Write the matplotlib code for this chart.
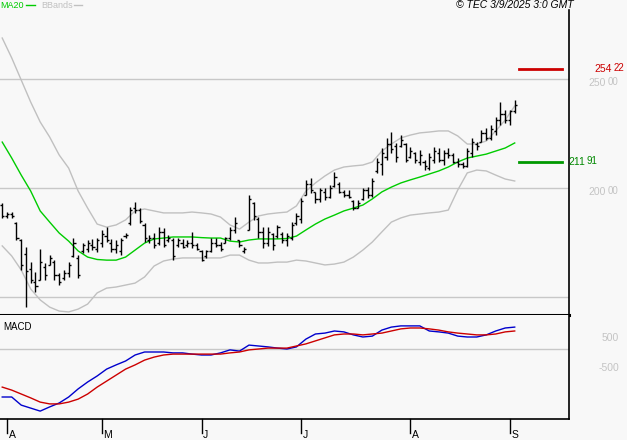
import matplotlib
matplotlib.use("Agg")
import matplotlib.pyplot as plt
from matplotlib.lines import Line2D
import numpy as np

plt.rcParams['font.family'] = ['Liberation Sans', 'DejaVu Sans']

# daily bars, 31 Mar -> 2 Sep 2025 (trading day index 0..108)
highs = [193.1, 189.0, 189.0, 184.4, 176.7, 173.0, 166.1, 161.6, 172.1, 165.7,
         169.3, 167.0, 161.1, 162.5, 166.1, 177.1, 169.3, 174.8, 176.2, 176.7,
         177.1, 180.8, 182.1, 176.7, 176.2, 177.1, 179.4, 191.3, 193.6, 190.8,
         184.0, 178.5, 179.4, 182.1, 181.7, 178.5, 177.1, 177.1, 176.7, 176.2,
         179.9, 174.8, 171.6, 171.6, 177.1, 177.1, 175.3, 177.6, 182.1, 186.7,
         176.2, 173.0, 196.8, 193.6, 186.7, 182.1, 182.1, 179.4, 183.1, 179.9,
         179.4, 184.4, 188.6, 195.4, 203.7, 204.6, 198.2, 200.0, 200.0, 201.4,
         207.3, 202.7, 199.1, 199.1, 194.5, 194.5, 200.0, 200.4, 204.6, 213.7,
         218.3, 222.9, 225.6, 220.6, 224.2, 220.6, 218.8, 216.5, 217.4, 212.8,
         216.0, 218.8, 218.3, 217.4, 218.3, 216.0, 213.7, 211.9, 218.3, 222.9,
         221.0, 226.5, 227.4, 228.8, 232.5, 239.3, 235.7, 235.7, 240.3]
lows = [186.3, 186.3, 186.3, 176.2, 162.5, 145.5, 156.5, 152.4, 157.9, 157.9,
        164.8, 157.9, 155.6, 157.9, 159.3, 168.4, 158.8, 170.3, 170.7, 171.6,
        170.7, 173.0, 175.3, 170.7, 170.3, 169.3, 177.1, 183.1, 188.6, 184.0,
        175.3, 174.8, 172.5, 173.9, 173.0, 175.3, 167.0, 173.0, 172.5, 173.0,
        172.5, 171.6, 166.6, 168.0, 170.7, 173.0, 171.2, 174.8, 176.2, 179.4,
        173.0, 170.3, 180.8, 185.4, 177.1, 172.5, 173.5, 171.6, 177.1, 174.8,
        173.5, 176.2, 183.1, 184.0, 196.8, 197.7, 193.1, 193.6, 194.5, 195.4,
        200.4, 197.7, 195.9, 195.4, 189.9, 190.8, 194.5, 195.4, 195.9, 206.9,
        205.9, 212.8, 216.0, 211.9, 218.8, 211.9, 213.7, 211.4, 210.5, 208.2,
        208.2, 211.4, 211.9, 210.5, 213.7, 211.4, 209.6, 209.1, 209.6, 214.2,
        217.4, 221.0, 221.9, 221.9, 224.2, 228.8, 229.7, 228.8, 234.3]
opens = [192, 187, 188, 184, 176, 170, 163, 157, 158, 164,
         165, 166, 160, 159, 161, 169, 168, 171, 172, 174,
         172, 175, 178, 175, 172, 171, 178, 184, 191, 190,
         183, 176, 177, 175, 180, 176, 176, 174, 175, 174,
         175, 174, 171, 169, 171, 175, 174, 175, 177, 181,
         176, 171, 181, 193, 186, 180, 175, 179, 178, 179,
         176, 177, 184, 186, 197, 202, 198, 195, 198, 196,
         201, 202, 198, 197, 194, 191, 195, 199, 197, 208,
         211, 214, 220, 219, 219, 220, 214, 216, 212, 212,
         209, 213, 216, 213, 216, 215, 212, 211, 210, 216,
         220, 221, 225, 223, 226, 231, 234, 231, 235]
closes = [187, 188, 187, 177, 165, 162, 158, 155, 166, 160,
          168, 160, 157, 161, 165, 175, 160, 174, 175, 173,
          176, 179, 176, 172, 174, 176, 178.5, 190, 190, 185,
          177, 177, 174, 180, 174, 177, 169, 176, 173, 175,
          174, 172, 167, 171, 175, 174, 172, 177, 181, 184,
          174, 172, 195, 187, 180, 175, 180, 174, 182, 176,
          178, 183, 187, 194, 202, 199, 195, 199, 196, 200,
          205, 198, 197, 196, 191, 193, 199, 197, 203, 212,
          216, 220, 218, 214, 222, 213, 217, 213, 215, 210,
          214, 217, 213, 216, 215, 212, 211, 210, 217, 221,
          219, 225, 223, 227, 231, 234, 231, 235, 238]

# indicator values read every second bar
ma20 = [221.0, 213.7, 205.9, 198.6, 189.5, 184.4, 179.4, 175.7, 171.2, 168.4,
        167.3, 167.0, 167.0, 168.4, 171.6, 174.8, 176.7, 177.1, 177.6, 177.6,
        177.6, 177.3, 177.1, 177.1, 175.7, 175.3, 176.2, 176.7, 176.7, 176.7,
        176.9, 178.0, 180.8, 183.5, 185.8, 187.6, 189.5, 190.8, 192.2, 195.0,
        198.2, 200.4, 202.3, 203.7, 205.0, 206.4, 207.8, 209.6, 211.9, 213.7,
        214.6, 215.5, 216.9, 218.3, 220.6]
bb_upper = [268.6, 259.5, 249.4, 239.3, 230.2, 223.3, 215.1, 209.1, 198.6, 190.8,
            183.5, 182.1, 183.1, 185.4, 189.5, 190.4, 189.5, 188.6, 188.6, 188.6,
            189.0, 188.6, 188.1, 186.7, 183.1, 181.2, 184.4, 187.2, 188.1, 188.6,
            189.0, 191.8, 198.6, 202.3, 205.5, 208.2, 209.6, 210.1, 210.5, 211.9,
            216.9, 220.1, 222.9, 224.2, 225.2, 225.6, 226.1, 226.1, 223.8, 220.1,
            220.1, 221.5, 226.1, 231.1, 237.5]
bb_lower = [173.5, 168.9, 162.5, 153.8, 148.8, 145.5, 143.7, 143.3, 144.6, 146.9,
            152.0, 154.2, 154.7, 155.6, 156.5, 159.3, 164.3, 166.6, 167.5, 168.0,
            168.0, 168.0, 168.0, 168.0, 169.3, 169.3, 167.0, 165.7, 165.7, 166.1,
            166.1, 167.0, 166.6, 165.7, 164.8, 165.2, 166.1, 168.4, 171.6, 175.3,
            179.9, 184.4, 186.3, 187.6, 188.1, 188.6, 189.0, 189.9, 199.1, 206.9,
            208.2, 207.8, 205.9, 204.1, 203.2]
macd = [-16.0, -16.0, -18.7, -19.7, -20.7, -19.3, -18.0, -16.0, -13.3, -11.0,
        -9.0, -6.7, -5.3, -4.0, -2.0, -1.0, -1.0, -1.0, -1.3, -1.3,
        -1.7, -2.0, -2.0, -1.3, -0.3, -0.7, 1.3, 1.0, 0.7, 0.3,
        0.0, 0.7, 3.3, 5.0, 5.3, 6.0, 5.7, 4.7, 4.0, 4.3,
        6.3, 7.3, 7.7, 7.7, 7.7, 6.0, 5.7, 5.3, 4.3, 4.0,
        4.0, 4.7, 6.0, 7.0, 7.3]
signal = [-12.7, -13.7, -15.0, -16.3, -17.7, -18.3, -18.3, -17.7, -16.7, -15.0,
          -12.7, -10.7, -8.7, -6.7, -5.3, -3.7, -2.7, -2.0, -1.7, -1.7,
          -1.7, -1.7, -1.7, -1.7, -1.3, -1.0, -0.3, 0.0, 0.3, 0.3,
          0.3, 1.0, 1.7, 2.7, 3.7, 4.7, 5.0, 5.0, 4.7, 5.0,
          5.3, 6.0, 6.7, 7.0, 7.0, 6.7, 6.3, 5.7, 5.3, 5.0,
          4.7, 4.7, 5.0, 5.7, 6.0]

level_hi = 254.22
level_lo = 211.91
price_grid = [150, 200, 250]
month_pos = [1, 21, 42, 63, 86, 107]
month_labels = ['A', 'M', 'J', 'J', 'A', 'S']

W, H = 627, 440
BG = '#f8f8f8'
GRAY = '#c4c4c4'

idx = np.arange(len(highs))
band_idx = np.arange(0, len(highs), 2)

fig = plt.figure(figsize=(W / 100, H / 100), dpi=100, facecolor=BG)
ax = fig.add_axes([0, 1 - 315 / H, 569 / W, (315 - 9.5) / H])
mx = fig.add_axes([0, 1 - 419 / H, 569 / W, (419 - 315) / H])

for a in (ax, mx):
    a.set_facecolor(BG)
    a.set_xlim(-0.47, 119.44)
    a.set_xticks([])
    a.set_yticks([])
    a.spines['left'].set_visible(False)
    a.spines['top'].set_visible(False)
    a.spines['right'].set_color('black')
    a.spines['right'].set_linewidth(1.2)
    a.spines['bottom'].set_color('black')
ax.spines['bottom'].set_linewidth(2.2)
mx.spines['bottom'].set_linewidth(1.2)

ax.set_ylim(141.9, 281.65)
mx.set_ylim(-23.33, 11.33)

# price panel
for g in price_grid:
    ax.axhline(g, color='#c8c8c8', lw=1, zorder=1)
ax.plot(band_idx, bb_upper, color='#c0c0c0', lw=1, zorder=2)
ax.plot(band_idx, bb_lower, color='#c0c0c0', lw=1, zorder=2)
ax.plot(band_idx, ma20, color='#00cc00', lw=1, zorder=3)
ax.vlines(idx, lows, highs, color='black', lw=1, zorder=4)
ax.hlines(opens, idx - 0.45, idx, color='black', lw=1, zorder=4)
ax.hlines(closes, idx, idx + 0.45, color='black', lw=1, zorder=4)

ax.axhline(level_hi, xmin=519 / 569, xmax=562 / 569, color='#cc0000', lw=2)
ax.axhline(level_lo, xmin=519 / 569, xmax=562 / 569, color='#009900', lw=2)

yt = ax.get_yaxis_transform()


def price_label(v, split_px, color, dy=0.0, fs=7.5):
    whole, dec = f"{v:.2f}".split('.')
    ax.text(split_px / 569, v + dy, whole, transform=yt, ha='right', va='center',
            color=color, fontsize=fs, clip_on=False)
    ax.text((split_px + 1.5) / 569, v + dy + 0.6, dec, transform=yt, ha='left',
            va='center', color=color, fontsize=fs - 0.5, clip_on=False)


price_label(level_hi, 612, '#cc0000')
price_label(level_lo, 585, '#008800')
for g in price_grid[1:]:
    price_label(g, 606, GRAY, dy=-2.0)

# MACD panel
mx.axhline(0, color='#c8c8c8', lw=1, zorder=1)
mx.plot(band_idx, macd, color='#0000cc', lw=1, zorder=3)
mx.plot(band_idx, signal, color='#cc0000', lw=1, zorder=3)
myt = mx.get_yaxis_transform()
mx.text(619 / 569, 3.7, '500', transform=myt, ha='right', va='center',
        color=GRAY, fontsize=7.5, clip_on=False)
mx.text(619 / 569, -6.3, '-500', transform=myt, ha='right', va='center',
        color=GRAY, fontsize=7.5, clip_on=False)
mx.text(3 / 569, 0.88, 'MACD', transform=mx.transAxes, ha='left', va='center',
        fontsize=7, color='black')

# month ticks under the MACD panel
bt = matplotlib.transforms.blended_transform_factory(mx.transData, mx.transAxes)
for m, lab in zip(month_pos, month_labels):
    mx.plot([m, m], [0, -14 / 104], transform=bt, color='black', lw=1, clip_on=False)
    mx.text(m + 0.35, -0.15, lab, transform=bt, ha='left', va='center',
            fontsize=7.5, clip_on=False)

# header
fig.text(0, 1 - 5.5 / H, 'MA20', color='#00cc00', fontsize=6.5, va='center')
fig.add_artist(Line2D([26 / W, 35 / W], [1 - 5.5 / H] * 2, color='#00cc00', lw=1))
fig.text(41 / W, 1 - 5.5 / H, 'BBands', color='#c0c0c0', fontsize=6.5, va='center')
fig.add_artist(Line2D([74 / W, 82 / W], [1 - 5.5 / H] * 2, color='#c0c0c0', lw=1))
fig.text(456 / W, 1 - 5.5 / H, '\u00a9 TEC 3/9/2025 3:0 GMT', style='italic',
         fontsize=7.5, va='center')

fig.savefig('out.png', dpi=100, facecolor=BG)
